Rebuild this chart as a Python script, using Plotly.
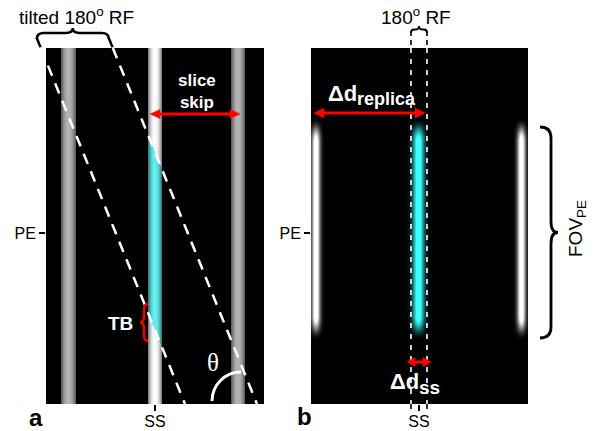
import numpy as np
import plotly.graph_objects as go

FIG_W, FIG_H = 597, 431
FONT = "Arial, Liberation Sans, sans-serif"

# ---------------- data ----------------
# panel boxes in figure pixels: [left, right, top, bottom]
panel_a_box = [46, 264, 48, 404]
panel_b_box = [311, 528, 48, 404]

# panel a: slices seen along SS (px from panel left)
slice_a_center = [22.5, 109.0, 192.0]
slice_a_halfwidth = [7.5, 7.0, 7.0]
slice_a_peak = [180, 255, 180]
excited_slice = 1
# tilted RF band: x where its two edges meet the panel bottom, and tilt (px SS per px PE)
rf_band_bottom_x = [139.0, 211.0]
rf_tilt = 0.405
rf_band_top_y = -10.0           # top end of the dashed band edges (px from panel top)

# panel b: replicas after the normal 180 RF
replica_center = [5.0, 107.5, 210.5]
replica_sigma = [4.2, 5.6, 4.2]
replica_rgb = [(255, 255, 255), (60, 255, 255), (255, 255, 255)]
replica_extent = [70.0, 292.0]   # PE extent (px from panel top)
replica_fade = 24.0
rf_b_edges = [100.0, 116.0]      # 180 RF slab edges (px from panel b left)

pe_tick = 185.0
ss_tick_a = 109.0
ss_tick_b = 108.0

# arrows [x_left, x_right, y] in figure px
arrow_slice_skip = [150, 240, 114]
arrow_replica = [314, 425, 113]
arrow_ss = [407, 431, 362]


# ---------------- images ----------------
def ramp(t):
    t = np.clip(t, 0.0, 1.0)
    return t * t * (3 - 2 * t)


def build_panel_a():
    w = panel_a_box[1] - panel_a_box[0]
    h = panel_a_box[3] - panel_a_box[2]
    yy, xx = np.mgrid[0:h, 0:w] + 0.5
    img = np.zeros((h, w, 3))
    for i, (c, hw, pk) in enumerate(zip(slice_a_center, slice_a_halfwidth, slice_a_peak)):
        d = np.abs(xx - c) / hw
        inside = d <= 1
        level = pk * (1 - 0.55 * d ** 2) * inside
        if i == excited_slice:
            left = rf_band_bottom_x[0] - rf_tilt * (h - yy)
            right = rf_band_bottom_x[1] - rf_tilt * (h - yy)
            cyan = (xx >= left) & (xx <= right) & inside
            for k, cval in enumerate((100, 240, 240)):
                ch = np.where(cyan, level / 255 * cval, level)
                img[..., k] = np.maximum(img[..., k], ch)
        else:
            for k in range(3):
                img[..., k] = np.maximum(img[..., k], level)
    return np.clip(img, 0, 255).astype(np.uint8)


def build_panel_b():
    w = panel_b_box[1] - panel_b_box[0]
    h = panel_b_box[3] - panel_b_box[2]
    yy, xx = np.mgrid[0:h, 0:w] + 0.5
    img = np.zeros((h, w, 3))
    v = ramp((yy - replica_extent[0]) / replica_fade) * ramp((replica_extent[1] - yy) / replica_fade)
    for c, s, rgb in zip(replica_center, replica_sigma, replica_rgb):
        g = np.exp(-((xx - c) / s) ** 2) * v
        for k in range(3):
            img[..., k] = np.maximum(img[..., k], rgb[k] * np.clip(g * 1.15, 0, 1))
    return np.clip(img, 0, 255).astype(np.uint8)


img_a = build_panel_a()
img_b = build_panel_b()

fig = go.Figure()
fig.add_trace(go.Image(z=img_a.tolist(), x0=0.5, dx=1, y0=0.5, dy=1,
                       xaxis="x", yaxis="y", hoverinfo="skip"))
fig.add_trace(go.Image(z=img_b.tolist(), x0=0.5, dx=1, y0=0.5, dy=1,
                       xaxis="x2", yaxis="y2", hoverinfo="skip"))


# ---------------- overlay (figure-pixel axes) ----------------
def pa(x, y):
    return panel_a_box[0] + x, panel_a_box[2] + y


def pb(x, y):
    return panel_b_box[0] + x, panel_b_box[2] + y


ha = panel_a_box[3] - panel_a_box[2]
# tilted RF band edges (dashed): black above the panel, white inside
for bx in rf_band_bottom_x:
    xb, yb = pa(bx, ha)
    xt, yt = pa(bx - rf_tilt * (ha - rf_band_top_y), rf_band_top_y)
    xm, ym = pa(bx - rf_tilt * ha, 0)
    fig.add_trace(go.Scatter(x=[xt, xm], y=[yt, ym], mode="lines", xaxis="x3", yaxis="y3",
                             line=dict(color="black", width=2.5, dash="10px,7px"), hoverinfo="skip"))
    fig.add_trace(go.Scatter(x=[xm, xb], y=[ym, yb], mode="lines", xaxis="x3", yaxis="y3",
                             line=dict(color="white", width=2.5, dash="11px,8px"), hoverinfo="skip"))

# 180 RF slab edges in panel b
for ex in rf_b_edges:
    x0, _ = pb(ex, 0)
    fig.add_trace(go.Scatter(x=[x0, x0], y=[31, 48], mode="lines", xaxis="x3", yaxis="y3",
                             line=dict(color="black", width=1.6, dash="5px,4px"), hoverinfo="skip"))
    fig.add_trace(go.Scatter(x=[x0, x0], y=[48, 404], mode="lines", xaxis="x3", yaxis="y3",
                             line=dict(color="white", width=1.6, dash="5px,6px"), hoverinfo="skip"))
    fig.add_trace(go.Scatter(x=[x0, x0], y=[404, 411], mode="lines", xaxis="x3", yaxis="y3",
                             line=dict(color="black", width=1.6, dash="5px,4px"), hoverinfo="skip"))

shapes = []


def hbrace(x1, x2, ye, ym, yt, color, width, q=6):
    xm = (x1 + x2) / 2
    p = (f"M {x1},{ye} Q {x1},{ym} {x1+q},{ym} L {xm-q},{ym} Q {xm},{ym} {xm},{yt} "
         f"Q {xm},{ym} {xm+q},{ym} L {x2-q},{ym} Q {x2},{ym} {x2},{ye}")
    shapes.append(dict(type="path", path=p, xref="x3", yref="y3",
                       line=dict(color=color, width=width)))


def vbrace(y1, y2, xe, xm, xt, color, width, q=8):
    yc = (y1 + y2) / 2
    p = (f"M {xe},{y1} Q {xm},{y1} {xm},{y1+q} L {xm},{yc-q} Q {xm},{yc} {xt},{yc} "
         f"Q {xm},{yc} {xm},{yc+q} L {xm},{y2-q} Q {xm},{y2} {xe},{y2}")
    shapes.append(dict(type="path", path=p, xref="x3", yref="y3",
                       line=dict(color=color, width=width)))


def darrow(x1, x2, y, hl, hw, color="#ff0000", lw=3):
    shapes.append(dict(type="line", x0=x1 + hl - 1, x1=x2 - hl + 1, y0=y, y1=y, xref="x3", yref="y3",
                       line=dict(color=color, width=lw)))
    for tip, s in ((x1, 1), (x2, -1)):
        p = f"M {tip},{y} L {tip + s*hl},{y-hw} L {tip + s*hl},{y+hw} Z"
        shapes.append(dict(type="path", path=p, xref="x3", yref="y3", fillcolor=color,
                           line=dict(color=color, width=0.5)))


# tilted RF brace (between the tops of the band edges)
tops = [pa(bx - rf_tilt * (ha - rf_band_top_y), rf_band_top_y)[0] for bx in rf_band_bottom_x]
hbrace(tops[0], tops[1], 39, 33, 28, "black", 2.5, q=7)
# 180 RF brace
hbrace(pb(rf_b_edges[0], 0)[0], pb(rf_b_edges[1], 0)[0], 33, 29.5, 26, "black", 1.8, q=3)
# TB brace (red)
vbrace(304, 341, 148, 144, 140, "#ee0000", 2.5, q=6)
# FOV brace
vbrace(127, 338, 540, 551, 558, "black", 2.8, q=11)

# theta arc
cx, cy, r, k = 241, 401, 29, 0.5523
shapes.append(dict(type="path", xref="x3", yref="y3", line=dict(color="white", width=3),
                   path=f"M {cx-r},{cy} C {cx-r},{cy-k*r} {cx-k*r},{cy-r} {cx},{cy-r}"))

darrow(*arrow_slice_skip, hl=10, hw=4.5)
darrow(*arrow_replica, hl=10, hw=5)
darrow(*arrow_ss, hl=8, hw=4.5)

annotations = []


def text(x, y, s, size, color="black", family=FONT, bold=False, angle=0, xanchor="center"):
    if bold:
        s = f"<b>{s}</b>"
    annotations.append(dict(x=x, y=y, xref="x3", yref="y3", text=s, showarrow=False,
                            font=dict(size=size, color=color, family=family),
                            xanchor=xanchor, yanchor="middle", textangle=angle, borderpad=0))


text(76, 16, "tilted 180<sup>o</sup> RF", 19)
text(416, 16, "180<sup>o</sup> RF", 19)
text(197, 91, "slice<br>skip", 17, "white", bold=True)
text(358, 93, "Δd", 22, "white", bold=True, xanchor="right")
text(356, 99, "replica", 18, "white", bold=True, xanchor="left")
text(420, 381, "Δd", 22, "white", bold=True, xanchor="right")
text(418, 387, "ss", 19, "white", bold=True, xanchor="left")
text(120, 323, "TB", 19, "white", bold=True)
text(213, 362, "θ", 25, "white", family="Liberation Serif, Times New Roman, serif")
text(36, 417, "a", 24, bold=True)
text(304, 416, "b", 24, bold=True)
text(577, 229, "FOV<sub>PE</sub>", 19, angle=-90)

fig.update_layout(shapes=shapes, annotations=annotations)

tick_common = dict(showgrid=False, zeroline=False, showline=False, ticks="outside", ticklen=6,
                   tickwidth=1.5, tickcolor="black", tickfont=dict(size=16, color="black", family=FONT))


def ydom(box):
    return [1 - box[3] / FIG_H, 1 - box[2] / FIG_H]


def xdom(box):
    return [box[0] / FIG_W, box[1] / FIG_W]


fig.update_layout(
    width=FIG_W, height=FIG_H, autosize=False,
    margin=dict(l=0, r=0, t=0, b=0),
    paper_bgcolor="white", plot_bgcolor="rgba(0,0,0,0)",
    showlegend=False,
    xaxis=dict(domain=xdom(panel_a_box), range=[0, panel_a_box[1] - panel_a_box[0]], anchor="y",
               tickvals=[ss_tick_a], ticktext=["SS"], ticklabelstandoff=-3, **tick_common),
    yaxis=dict(domain=ydom(panel_a_box), range=[panel_a_box[3] - panel_a_box[2], 0], anchor="x",
               tickvals=[pe_tick], ticktext=["PE"], scaleanchor=False, **tick_common),
    xaxis2=dict(domain=xdom(panel_b_box), range=[0, panel_b_box[1] - panel_b_box[0]], anchor="y2",
                tickvals=[ss_tick_b], ticktext=["SS"], ticklabelstandoff=-3, **tick_common),
    yaxis2=dict(domain=ydom(panel_b_box), range=[panel_b_box[3] - panel_b_box[2], 0], anchor="x2",
                tickvals=[pe_tick], ticktext=["PE"], scaleanchor=False, **tick_common),
    xaxis3=dict(domain=[0, 1], range=[0, FIG_W], anchor="y3", visible=False),
    yaxis3=dict(domain=[0, 1], range=[FIG_H, 0], anchor="x3", visible=False),
)

fig.write_html("out.html", post_script="document.body.style.margin='0px';",
               config={"displayModeBar": False})
